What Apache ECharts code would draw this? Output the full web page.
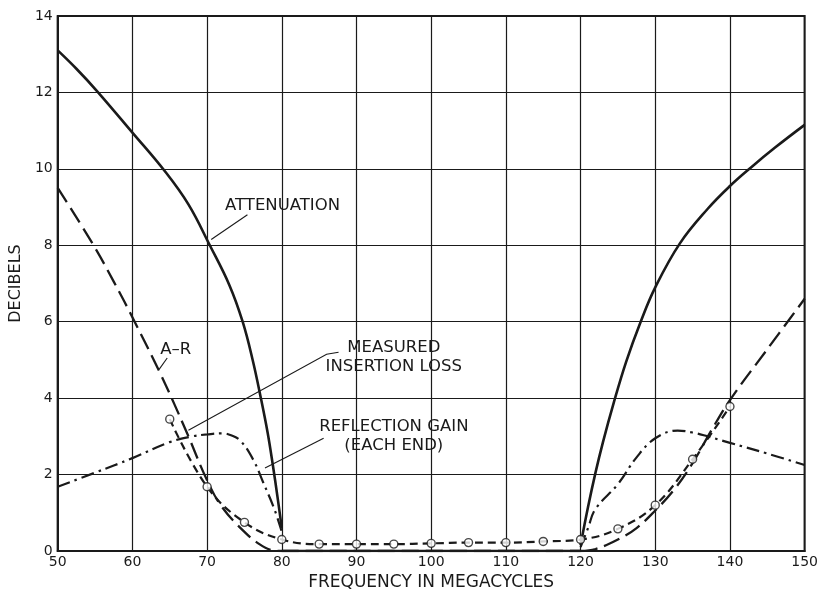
<!DOCTYPE html>
<html>
<head>
<meta charset="utf-8">
<script src="https://cdn.jsdelivr.net/npm/echarts@6/dist/echarts.min.js"></script>
<style>
html,body{margin:0;padding:0;background:#fff;}
#chart{width:821px;height:596px;}
</style>
</head>
<body>
<div id="chart"></div>
<script>
// ---- data (frequency MHz, decibels) ----
const xTicks = [50, 60, 70, 80, 90, 100, 110, 120, 130, 140, 150];
const yTicks = [0, 2, 4, 6, 8, 10, 12, 14];

const attenuationLow = [[50,13.1],[52.5,12.62],[55.2,12.05],[60,10.95],[64.3,9.95],[67.5,9.07],[70.36,8.0],[73.0,6.95],[74.76,6.0],[76.1,5.0],[77.2,4.0],[78.1,3.1],[78.8,2.25],[79.4,1.45],[80,0.6]];
const attenuationPass = [[80,0],[120,0]];
const attenuationHigh = [[120,0.15],[121,1.15],[122,2.05],[123,2.85],[124.4,3.85],[126.1,4.95],[128.05,6.0],[130,6.9],[133.3,8.05],[137,8.95],[140,9.55],[142.9,10.05],[146,10.55],[150,11.15]];

const arLow = [[50,9.5],[54.8,8.0],[57.5,7.05],[60.3,6.0],[63.6,4.7],[65.6,3.85],[67.5,3.0],[70,1.85],[72,1.15],[75,0.5],[77,0.18],[78.5,0.03],[80,0]];
const arPass = [[80,0],[120,0]];
const arHigh = [[120,0],[122,0.05],[125,0.3],[127.5,0.6],[130,1.06],[132.5,1.6],[135,2.3],[137.5,3.15],[140,3.95],[145,5.28],[150,6.6]];

const measuredFreq = [65, 70, 75, 80, 85, 90, 95, 100, 105, 110, 115, 120, 125, 130, 135, 140];
const measuredLoss = [3.45, 1.68, 0.75, 0.3, 0.18, 0.18, 0.18, 0.2, 0.22, 0.22, 0.25, 0.3, 0.58, 1.2, 2.4, 3.78];

const reflLow = [[50,1.68],[55,2.05],[60,2.43],[65,2.85],[68,3.0],[70,3.05],[72,3.08],[73.3,3.02],[74.5,2.88],[76.2,2.38],[77.5,1.8],[79,1.1],[80,0.5]];
const reflHigh = [[120,0.1],[121,0.6],[122,1.1],[125,1.75],[127.5,2.45],[130,2.95],[133,3.15],[135,3.1],[137,3.0],[140,2.83],[145,2.55],[150,2.25]];

// annotation anchors in data units
const notes = [
  {lines:['ATTENUATION'], at:[80.1, 9.03], arrow:[[75.4,8.8],[70.55,8.15]]},
  {lines:['A\u2013R'], at:[65.8, 5.28], arrow:[[64.66,5.05],[63.6,4.76]]},
  {lines:['MEASURED','INSERTION LOSS'], at:[95.0, 5.07], arrow:[[87.6,5.2],[86.0,5.15],[67.5,3.16]]},
  {lines:['REFLECTION GAIN','(EACH END)'], at:[95.0, 3.0], arrow:[[85.6,2.95],[77.75,2.17]]}
];

const INK = '#1a1a1a';
const FONT = 'DejaVu Sans';

const chart = echarts.init(document.getElementById('chart'), null, {renderer:'canvas'});

function lineSeries(data, dash, width){
  return {
    type:'line', data:data, smooth:0.4, symbol:'none',
    lineStyle:{color:INK, width:width, type:dash}, z:3, silent:true
  };
}

const measuredPairs = measuredFreq.map((f,i)=>[f, measuredLoss[i]]);

const series = [
  lineSeries(attenuationLow, 'solid', 2.6),
  lineSeries(attenuationPass, 'solid', 2.6),
  lineSeries(attenuationHigh, 'solid', 2.6),
  lineSeries(arLow, [17,7], 2.3),
  lineSeries(arPass, [17,7], 2.3),
  lineSeries(arHigh, [17,7], 2.3),
  lineSeries(measuredPairs, [8,5], 2.2),
  lineSeries(reflLow, [13,5,2.5,5], 2.2),
  lineSeries(reflHigh, [13,5,2.5,5], 2.2),
  {
    type:'scatter', data:measuredPairs, symbol:'circle', symbolSize:8,
    itemStyle:{color:'#fff', borderColor:INK, borderWidth:1.4}, z:5, silent:true
  },
  {
    type:'lines', coordinateSystem:'cartesian2d', polyline:true,
    data: notes.map(n=>({coords:n.arrow})),
    symbol:['none','arrow'], symbolSize:[0,9],
    lineStyle:{color:INK, width:1.1, opacity:1}, z:6, silent:true
  }
];

chart.setOption({
  animation:false,
  backgroundColor:'#fff',
  grid:{left:43, right:15, top:16, bottom:39, show:true, borderColor:INK, borderWidth:2, backgroundColor:'transparent'},
  xAxis:{
    type:'value', min:xTicks[0], max:xTicks[xTicks.length-1], interval:10,
    name:'FREQUENCY IN MEGACYCLES', nameLocation:'middle', nameGap:23,
    nameTextStyle:{color:INK, fontFamily:FONT, fontSize:17},
    axisLine:{lineStyle:{color:INK, width:2}},
    axisTick:{show:false},
    axisLabel:{color:INK, fontFamily:FONT, fontSize:14, margin:4},
    splitLine:{show:true, lineStyle:{color:INK, width:1.2}}
  },
  yAxis:{
    type:'value', min:yTicks[0], max:yTicks[yTicks.length-1], interval:2,
    name:'DECIBELS', nameLocation:'middle', nameGap:21,
    nameTextStyle:{color:INK, fontFamily:FONT, fontSize:16},
    axisLine:{show:true, lineStyle:{color:INK, width:2}},
    axisTick:{show:false},
    axisLabel:{color:INK, fontFamily:FONT, fontSize:14, margin:5},
    splitLine:{show:true, lineStyle:{color:INK, width:1.2}}
  },
  series:series
});

// annotation texts positioned via the chart's own coordinate conversion
const graphics = [];
notes.forEach(n=>{
  const p = chart.convertToPixel({gridIndex:0}, n.at);
  graphics.push({
    type:'text', x:p[0], y:p[1], z:10, silent:true,
    style:{text:n.lines.join('\n'), fill:INK, font:'16.5px "' + FONT + '"', align:'center', verticalAlign:'middle', lineHeight:19}
  });
});
chart.setOption({graphic:graphics});
</script>
</body>
</html>
